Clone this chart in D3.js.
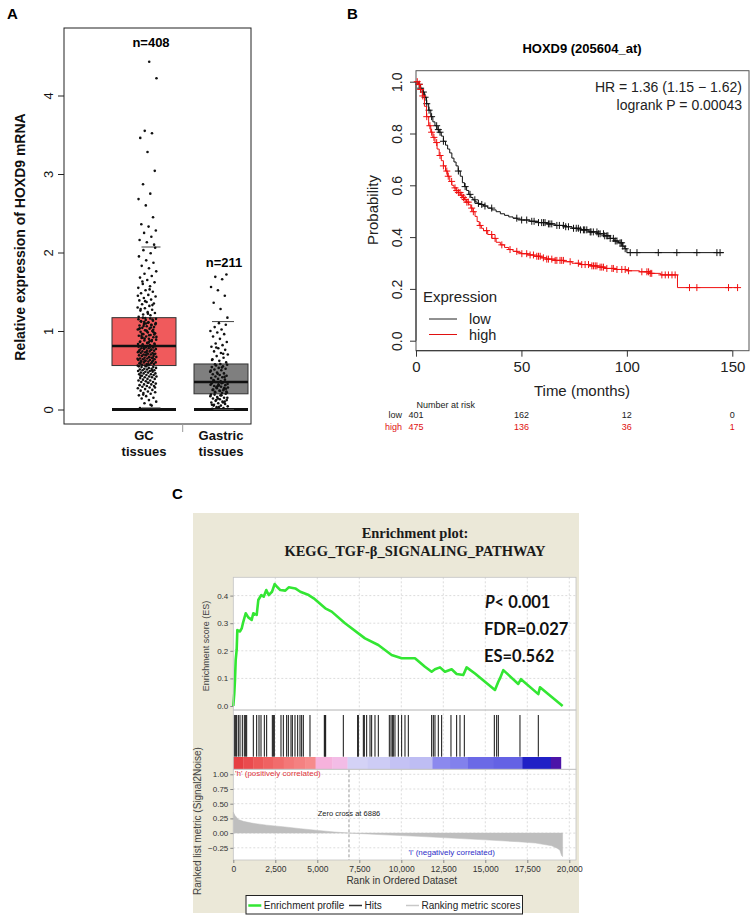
<!DOCTYPE html>
<html><head><meta charset="utf-8">
<script src="https://cdn.jsdelivr.net/npm/d3@7"></script>
<style>body{margin:0;background:#fff}svg{display:block}</style>
</head><body><svg id="c" width="753" height="917" font-family="Liberation Sans, Arial, sans-serif"></svg>
<script>
// ---------- Panel A data ----------
const aCats = ["GC", "Gastric"];
const aCatLabels = [["GC", "tissues"], ["Gastric", "tissues"]];
const aCounts = ["n=408", "n=211"];
const aQ1 = [0.56, 0.20];
const aMedian = [0.81, 0.35];
const aQ3 = [1.17, 0.58];
const aWhiskerHi = [2.07, 1.12];
const aWhiskerLo = [0.02, 0.0];
const aYTicks = [0, 1, 2, 3, 4];
const gcValues = [0.02,0.05,0.08,0.1,0.12,0.14,0.15,0.17,0.18,0.2,0.21,0.22,0.23,0.24,0.25,0.26,0.27,0.28,0.29,0.3,0.3,0.31,0.32,0.32,0.33,0.34,0.35,0.35,0.36,0.37,0.37,0.38,0.39,0.39,0.4,0.41,0.41,0.42,0.42,0.43,0.44,0.44,0.45,0.45,0.46,0.46,0.47,0.47,0.48,0.48,0.49,0.49,0.5,0.5,0.51,0.51,0.52,0.52,0.53,0.53,0.54,0.54,0.55,0.55,0.06,0.19,0.28,0.34,0.43,0.5,
0.56,0.56,0.57,0.57,0.58,0.58,0.59,0.59,0.6,0.6,0.61,0.61,0.62,0.62,0.63,0.63,0.64,0.64,0.65,0.65,0.66,0.66,0.67,0.67,0.68,0.68,0.69,0.69,0.7,0.7,0.71,0.71,0.72,0.72,0.73,0.73,0.74,0.74,0.75,0.75,0.76,0.76,0.77,0.77,0.78,0.78,0.79,0.79,0.8,0.8,0.81,0.81,0.565,0.585,0.605,0.625,0.645,0.665,0.685,0.705,0.725,0.745,0.765,0.785,0.805,0.575,0.615,0.655,0.695,0.735,
0.82,0.83,0.84,0.85,0.86,0.87,0.88,0.89,0.9,0.91,0.92,0.93,0.94,0.95,0.96,0.97,0.98,0.99,1.0,1.01,1.02,1.03,1.04,1.05,1.06,1.07,1.08,1.09,1.1,1.11,1.12,1.13,1.14,1.15,1.16,1.17,0.825,0.845,0.865,0.885,0.905,0.925,0.945,0.965,0.985,1.005,1.025,1.045,1.065,1.085,1.105,1.125,1.145,1.165,0.835,0.875,0.915,0.955,0.995,1.035,1.075,1.115,1.155,0.855,0.935,1.015,1.095,
1.18,1.2,1.21,1.23,1.24,1.26,1.27,1.29,1.3,1.32,1.34,1.35,1.37,1.39,1.4,1.42,1.44,1.46,1.48,1.5,1.52,1.55,1.57,1.6,1.62,1.65,1.68,1.7,1.73,1.76,1.8,1.83,1.87,1.9,1.95,1.99,2.03,2.06,1.22,1.28,1.33,1.38,1.45,1.53,1.63,
2.1,2.13,2.16,2.2,2.25,2.28,2.33,2.36,2.45,2.6,2.68,2.75,2.87,3.04,3.28,3.46,3.52,3.55,4.22,4.43];
const gastricValues = [0.01,0.02,0.03,0.04,0.05,0.06,0.07,0.08,0.09,0.1,0.11,0.12,0.13,0.14,0.15,0.16,0.17,0.18,0.19,0.2,0.03,0.06,0.09,0.12,0.15,0.18,0.05,0.1,0.14,0.19,
0.21,0.22,0.23,0.24,0.25,0.26,0.27,0.28,0.29,0.3,0.31,0.32,0.33,0.34,0.35,0.215,0.235,0.255,0.275,0.295,0.315,0.335,0.225,0.265,0.305,0.345,0.245,0.285,0.325,
0.36,0.37,0.38,0.39,0.4,0.41,0.42,0.43,0.44,0.45,0.46,0.47,0.48,0.5,0.51,0.52,0.53,0.54,0.55,0.56,0.57,0.58,0.375,0.415,0.455,0.495,0.535,0.575,
0.6,0.62,0.64,0.66,0.68,0.7,0.72,0.74,0.76,0.78,0.8,0.82,0.84,0.86,0.9,0.93,0.96,0.98,1.0,1.02,1.05,1.08,1.1,0.63,0.71,0.79,
1.17,1.28,1.36,1.45,1.52,1.56,1.66,1.69,1.72];

// ---------- Panel B data ----------
const kmLowT = [0,1,2,3,4,5,6,7,8,9,10,11,12,13,14,15,16,17,18,19,20,21,22,23,24,25,26,27,28,29,30,32,34,36,38,40,42,44,46,48,50,54,58,62,66,70,74,78,82,86,89,92,94,96,98,99,100];
const kmLowS = [1.0,0.99,0.975,0.96,0.94,0.915,0.89,0.865,0.845,0.83,0.815,0.805,0.79,0.77,0.755,0.74,0.725,0.705,0.69,0.675,0.655,0.635,0.61,0.595,0.58,0.565,0.553,0.544,0.536,0.53,0.526,0.52,0.512,0.505,0.498,0.49,0.484,0.478,0.473,0.469,0.466,0.461,0.456,0.451,0.445,0.44,0.434,0.428,0.42,0.413,0.405,0.395,0.385,0.378,0.365,0.355,0.34];
const kmLowEnd = 146;
const kmHighT = [0,1,2,3,4,5,6,7,8,9,10,11,12,13,14,15,16,17,18,19,20,21,22,23,24,25,26,27,28,29,30,31,32,34,36,38,40,42,44,46,48,50,53,56,59,62,66,70,74,78,82,86,90,95,100,106,111,116,124];
const kmHighS = [1.0,0.99,0.97,0.945,0.905,0.865,0.83,0.805,0.785,0.765,0.74,0.715,0.695,0.675,0.655,0.635,0.615,0.6,0.59,0.58,0.572,0.562,0.553,0.545,0.535,0.525,0.512,0.498,0.48,0.46,0.445,0.434,0.425,0.41,0.395,0.38,0.37,0.36,0.352,0.345,0.34,0.336,0.331,0.326,0.32,0.315,0.31,0.305,0.299,0.294,0.289,0.284,0.279,0.275,0.27,0.266,0.26,0.254,0.205];
const kmHighEnd = 152.5;
const kmLowCensor = [1.5,2.2,3.5,4.3,5.1,6.2,7.4,9.8,10.6,11.4,13,20.1,23.3,25.6,27.9,29.6,31.2,32.7,35.9,47.8,50.1,52.5,54.9,56,58.1,59.6,60.5,61.2,62.8,63.5,64.4,66.8,68,69.9,71,72.3,74.7,76,77,78,79.4,80,81,82.6,83,84.1,85.8,86.5,87.3,88.9,89.5,90.5,91,92.1,93.6,94.5,95.3,96.8,97.5,98.1,99.2,101.6,104.8,114.9,123.7,133.2,142.7,144.2];
const kmHighCensor = [0.6,1.6,2.2,3.2,5.1,6.6,7.4,8.5,9.8,11.4,13,14.6,15.3,16.9,18.5,19.3,20.1,20.9,21.7,22.5,23.3,24.1,24.8,26.4,27.2,30.4,33.5,35.9,37.5,40.7,44.6,47.8,50.2,52.5,54.1,55.7,57.3,58.1,58.9,60.4,62,62.8,64.4,66,66.8,68.3,69.1,69.9,73.1,77,78.6,80.2,81.8,83.4,84.2,85,85.8,87.3,88.1,88.9,90.5,92.9,93.6,95.3,97.6,99.2,100.8,107.1,109.5,110.3,111.1,111.8,116.6,118.2,119.7,121.4,122.9,129.7,133.2,148.2,152.5];
const kmXTicks = [0, 50, 100, 150];
const kmYTicks = [0, 0.2, 0.4, 0.6, 0.8, 1.0];
const riskTimes = [0, 50, 100, 150];
const riskLow = [401, 162, 12, 0];
const riskHigh = [475, 136, 36, 1];

// ---------- Panel C data ----------
const esRank = [0,60,100,143,200,240,400,500,595,738,893,1095,1190,1393,1488,1667,1810,1964,2107,2304,2464,2601,2798,3095,3298,3690,3988,4488,4786,5476,5857,6649,7839,8631,9027,9423,10020,10813,11408,11806,12004,12302,12599,12996,13294,13690,13889,14385,15575,15774,15873,16071,16964,17123,18155,18254,19603];
const esScore = [0,0.047,0.094,0.167,0.203,0.275,0.27,0.281,0.305,0.336,0.321,0.312,0.336,0.33,0.384,0.402,0.396,0.42,0.402,0.414,0.442,0.432,0.42,0.418,0.43,0.426,0.414,0.402,0.39,0.354,0.342,0.3,0.245,0.221,0.203,0.185,0.173,0.173,0.142,0.124,0.133,0.14,0.124,0.133,0.116,0.112,0.14,0.118,0.058,0.088,0.1,0.13,0.08,0.097,0.043,0.068,0];
const hitRanks = [61,141,200,300,399,537,656,736,796,1192,1391,1530,1649,1847,1986,2323,2383,2442,2839,2978,3176,3276,3434,3514,3672,3831,3970,4069,4168,4565,5418,5458,5498,6549,7403,7442,7740,7799,7938,8137,8236,8434,8632,9287,9386,9466,9525,9624,9823,10021,10220,10418,11807,11906,12005,12203,12402,12957,13295,13494,13751,15537,15676,15775,17064,18155];
const metricRank = [0,30,100,300,600,1100,2000,3075,4000,5060,6000,6886,8000,9030,11000,13000,15000,16970,18000,18950,19300,19440,19540,19600];
const metricValue = [0.36,0.34,0.3,0.23,0.2,0.17,0.135,0.105,0.075,0.045,0.02,0,-0.015,-0.03,-0.055,-0.085,-0.115,-0.147,-0.17,-0.215,-0.26,-0.29,-0.38,-0.4];
const barStart = [0,600,1200,1800,2400,3000,3600,4300,4900,5900,6800,8000,9300,10500,11850,12900,13930,15500,17200,18900];
const barEnd   = [600,1200,1800,2400,3000,3600,4300,4900,5900,6800,8000,9300,10500,11850,12900,13930,15500,17200,18900,19500];
const barColor = ["#E63F42","#EA4B4E","#ED5858","#EF6262","#F16C6C","#F37878","#F48181","#F68B8B","#F6B2DC","#F3BCE6","#D4D2F6","#CDCCF5","#C4C2F4","#BEBDF3","#8B89EE","#8281EC","#6B69E6","#6462E4","#2020C6","#4C14A8"];
const gseaXTicks = [0,2500,5000,7500,10000,12500,15000,17500,20000];
const esYTicks = [0, 0.1, 0.2, 0.3, 0.4];
const metricYTicks = [-0.25, 0, 0.25, 0.5, 0.75, 1.0];
const zeroCross = 6886;
const gseaStats = ["< 0.001", "FDR=0.027", "ES=0.562"];
const gseaLegend = ["Enrichment profile", "Hits", "Ranking metric scores"];

// ================= Drawing =================
const SANS = "Liberation Sans, Arial, sans-serif";
const SERIF = "Liberation Serif, Times New Roman, serif";
const svg = d3.select("#c");
svg.append("rect").attr("width", 753).attr("height", 917).attr("fill", "#fff");

function panelLabel(t, x, y) {
  svg.append("text").attr("x", x).attr("y", y).attr("font-size", 15).attr("font-weight", "bold").text(t);
}

// ---------- Panel A ----------
panelLabel("A", 7, 19);
const aY = d3.scaleLinear().domain([0, 4]).range([409.5, 95.5]);
const aX = d3.scalePoint().domain(aCats).range([144, 221]);
const aBoxW = [64, 54];
const aJitterShift = [3, -2];
const aJitterW = [19, 18];
const aWhiskShift = [7, 2];
const aWhiskW = [19, 22];
const aFill = ["#F05A5C", "#7F7F7F"];
const A = svg.append("g");

A.append("rect").attr("x", 64).attr("y", 28).attr("width", 187).attr("height", 396)
  .attr("fill", "none").attr("stroke", "#222").attr("stroke-width", 1);

const aAxis = A.append("g").attr("transform", "translate(64,0)")
  .call(d3.axisLeft(aY).tickValues(aYTicks).tickSize(6).tickFormat(d3.format("d")));
aAxis.select(".domain").remove();
aAxis.selectAll("line").attr("stroke", "#222");
aAxis.selectAll("text").attr("transform", "rotate(-90)").attr("x", 0).attr("y", -11).attr("dy", 0)
  .attr("text-anchor", "middle").attr("font-size", 13).attr("fill", "#111").attr("font-family", SANS);

A.append("text").attr("transform", "translate(25,237) rotate(-90)").attr("text-anchor", "middle")
  .attr("font-size", 14).attr("font-weight", "bold").attr("fill", "#111").text("Relative expression of HOXD9 mRNA");

aCats.forEach((c, i) => {
  const cx = aX(c), w = aBoxW[i];
  A.append("rect").attr("x", cx - w / 2).attr("y", aY(aQ3[i])).attr("width", w)
    .attr("height", aY(aQ1[i]) - aY(aQ3[i])).attr("fill", aFill[i]).attr("stroke", "#333").attr("stroke-width", 1);
  A.append("line").attr("x1", cx - w / 2).attr("x2", cx + w / 2).attr("y1", aY(aMedian[i])).attr("y2", aY(aMedian[i]))
    .attr("stroke", "#111").attr("stroke-width", 2.5);
  A.append("line").attr("x1", cx - w / 2).attr("x2", cx + w / 2).attr("y1", aY(0)).attr("y2", aY(0))
    .attr("stroke", "#111").attr("stroke-width", 3.2);
  const wx = cx + aWhiskShift[i];
  [aWhiskerHi[i], aWhiskerLo[i]].forEach(v => {
    A.append("line").attr("x1", wx - aWhiskW[i] / 2).attr("x2", wx + aWhiskW[i] / 2)
      .attr("y1", aY(v)).attr("y2", aY(v)).attr("stroke", "#444").attr("stroke-width", 1);
  });
  const vals = i === 0 ? gcValues : gastricValues;
  const jx = cx + aJitterShift[i];
  A.append("g").selectAll("circle").data(vals).join("circle")
    .attr("cx", (d, k) => jx + (((k * 0.6180339887 + 0.13) % 1) - 0.5) * aJitterW[i])
    .attr("cy", d => aY(d)).attr("r", 1.3).attr("fill", "#111");
  A.append("text").attr("x", cx + aWhiskShift[i] + (i === 0 ? 0 : 1)).attr("y", i === 0 ? 47 : 267)
    .attr("text-anchor", "middle").attr("font-size", 13).attr("font-weight", "bold").text(aCounts[i]);
  aCatLabels[i].forEach((t, k) => {
    A.append("text").attr("x", cx).attr("y", 440 + k * 15.5).attr("text-anchor", "middle")
      .attr("font-size", 13).attr("font-weight", "bold").attr("fill", "#111").text(t);
  });
});
A.append("line").attr("x1", 182.7).attr("x2", 182.7).attr("y1", 424).attr("y2", 432).attr("stroke", "#999");

// ---------- Panel B ----------
panelLabel("B", 347, 19);
const kx = d3.scaleLinear().domain([0, 150]).range([416, 732.3]);
const ky = d3.scaleLinear().domain([0, 1]).range([340.7, 81.7]);
const B = svg.append("g");
B.append("text").attr("x", 582).attr("y", 53).attr("text-anchor", "middle").attr("font-size", 13)
  .attr("font-weight", "bold").text("HOXD9 (205604_at)");
B.append("rect").attr("x", 416).attr("y", 70.7).attr("width", 333).attr("height", 280)
  .attr("fill", "none").attr("stroke", "#555").attr("stroke-width", 1);

const bxAxis = B.append("g").attr("transform", "translate(0,350.7)")
  .call(d3.axisBottom(kx).tickValues(kmXTicks).tickSize(6).tickPadding(5));
bxAxis.select(".domain").attr("stroke", "#333").attr("d", `M${kx(0)},0H${kx(150)}`);
bxAxis.selectAll("line").attr("stroke", "#333");
bxAxis.selectAll("text").attr("font-size", 15).attr("fill", "#222").attr("font-family", SANS);

const byAxis = B.append("g").attr("transform", "translate(416,0)")
  .call(d3.axisLeft(ky).tickValues(kmYTicks).tickSize(6).tickFormat(d3.format(".1f")));
byAxis.select(".domain").attr("stroke", "#333").attr("d", `M0,${ky(0)}V${ky(1)}`);
byAxis.selectAll("line").attr("stroke", "#333");
byAxis.selectAll("text").attr("transform", "rotate(-90)").attr("x", 0).attr("y", -14.5).attr("dy", 0)
  .attr("text-anchor", "middle").attr("font-size", 14).attr("fill", "#222").attr("font-family", SANS);

B.append("text").attr("transform", "translate(378,210) rotate(-90)").attr("text-anchor", "middle")
  .attr("font-size", 15).attr("fill", "#222").text("Probability");
B.append("text").attr("x", 582).attr("y", 396).attr("text-anchor", "middle").attr("font-size", 15)
  .attr("fill", "#222").text("Time (months)");

B.append("text").attr("x", 742).attr("y", 92).attr("text-anchor", "end").attr("font-size", 14)
  .attr("fill", "#222").text("HR = 1.36 (1.15 \u2212 1.62)");
B.append("text").attr("x", 742).attr("y", 109.5).attr("text-anchor", "end").attr("font-size", 14)
  .attr("fill", "#222").text("logrank P = 0.00043");

function survAt(T, S, t) { const i = d3.bisectRight(T, t) - 1; return S[Math.max(0, i)]; }
const stepLine = d3.line().x(d => kx(d[0])).y(d => ky(d[1])).curve(d3.curveStepAfter);
const groups = [
  {T: kmLowT, S: kmLowS, end: kmLowEnd, cens: kmLowCensor, col: "#111"},
  {T: kmHighT, S: kmHighS, end: kmHighEnd, cens: kmHighCensor, col: "#F01010"}
];
groups.forEach(g => {
  const pts = g.T.map((t, i) => [t, g.S[i]]).concat([[g.end, g.S[g.S.length - 1]]]);
  B.append("path").attr("d", stepLine(pts)).attr("fill", "none").attr("stroke", g.col).attr("stroke-width", 1);
  B.append("path").attr("d", g.cens.map(t => {
    const x = kx(t), y = ky(survAt(g.T, g.S, t));
    return `M${x - 3.5},${y}h7M${x},${y - 3.5}v7`;
  }).join("")).attr("fill", "none").attr("stroke", g.col).attr("stroke-width", 1);
});

// legend
B.append("text").attr("x", 423).attr("y", 302).attr("font-size", 15).attr("fill", "#222").text("Expression");
[["low", "#222"], ["high", "#E01010"]].forEach((d, i) => {
  const y = 319 + i * 15.5;
  B.append("line").attr("x1", 429).attr("x2", 457).attr("y1", y).attr("y2", y).attr("stroke", d[1]).attr("stroke-width", 1);
  B.append("text").attr("x", 469).attr("y", y + 5).attr("font-size", 14.5).attr("fill", "#222").text(d[0]);
});

// risk table
B.append("text").attr("x", 416.5).attr("y", 407.5).attr("font-size", 9).attr("fill", "#222").text("Number at risk");
[["low", riskLow, "#222", 418], ["high", riskHigh, "#E01010", 430]].forEach(r => {
  B.append("text").attr("x", 402).attr("y", r[3]).attr("text-anchor", "end").attr("font-size", 9).attr("fill", r[2]).text(r[0]);
  riskTimes.forEach((t, i) => {
    B.append("text").attr("x", kx(t)).attr("y", r[3]).attr("text-anchor", "middle").attr("font-size", 9)
      .attr("fill", r[2]).text(r[1][i]);
  });
});

// ---------- Panel C ----------
panelLabel("C", 172, 499);
const C = svg.append("g");
C.append("rect").attr("x", 193).attr("y", 513).attr("width", 386).attr("height", 400).attr("fill", "#EBE8D8");
C.append("text").attr("x", 415).attr("y", 538).attr("text-anchor", "middle").attr("font-size", 14.5)
  .attr("font-weight", "bold").attr("font-family", SERIF).attr("fill", "#1a1a1a")
  .text("Enrichment plot:");
C.append("text").attr("x", 415).attr("y", 556).attr("text-anchor", "middle").attr("font-size", 14.5)
  .attr("font-weight", "bold").attr("font-family", SERIF).attr("fill", "#1a1a1a")
  .text("KEGG_TGF-\u03B2_SIGNALING_PATHWAY");

const gx = d3.scaleLinear().domain([0, 20000]).range([233.3, 569.3]);
const esY = d3.scaleLinear().domain([0, 0.4]).range([706, 595.6]);
const mY = d3.scaleLinear().domain([-0.25, 1]).range([847.8, 774.3]);
const pL = 233.3, pR = 576;
const esTop = 577.3, esBot = 710, hitsBot = 769.3, mBot = 860;

[[esTop, esBot], [esBot, hitsBot], [hitsBot, mBot]].forEach(p => {
  C.append("rect").attr("x", pL).attr("y", p[0]).attr("width", pR - pL).attr("height", p[1] - p[0])
    .attr("fill", "#fff");
});
const grid = C.append("g").attr("stroke", "#dcdcdc").attr("stroke-dasharray", "2,2").attr("stroke-width", 1);
gseaXTicks.slice(1).forEach(t => {
  grid.append("line").attr("x1", gx(t)).attr("x2", gx(t)).attr("y1", esTop).attr("y2", mBot);
});
esYTicks.slice(1).forEach(t => {
  grid.append("line").attr("x1", pL).attr("x2", pR).attr("y1", esY(t)).attr("y2", esY(t));
});
metricYTicks.forEach(t => {
  grid.append("line").attr("x1", pL).attr("x2", pR).attr("y1", mY(t)).attr("y2", mY(t));
});

C.append("g").selectAll("rect").data(barStart).join("rect")
  .attr("x", (d, i) => gx(d)).attr("width", (d, i) => gx(barEnd[i]) - gx(d) + 0.3)
  .attr("y", 757).attr("height", 12).attr("fill", (d, i) => barColor[i]);

C.append("g").selectAll("line").data(hitRanks).join("line")
  .attr("x1", d => gx(d)).attr("x2", d => gx(d)).attr("y1", 715).attr("y2", 756.7)
  .attr("stroke", "#111").attr("stroke-width", 1);

const metPts = metricRank.map((r, i) => [r, metricValue[i]]);
C.append("path").attr("d", d3.area().x(d => gx(d[0])).y0(mY(0)).y1(d => mY(d[1]))(metPts))
  .attr("fill", "#BEBEBE").attr("stroke", "#BEBEBE").attr("stroke-width", 0.5);

C.append("line").attr("x1", gx(zeroCross)).attr("x2", gx(zeroCross)).attr("y1", hitsBot).attr("y2", mBot)
  .attr("stroke", "#999").attr("stroke-dasharray", "3,2");
C.append("text").attr("x", 317.7).attr("y", 816).attr("font-size", 7.5).attr("fill", "#222").text("Zero cross at " + zeroCross);
C.append("text").attr("x", 235).attr("y", 775.5).attr("font-size", 8).attr("fill", "#E0353A").text("'h' (positively correlated)");
C.append("text").attr("x", 451.7).attr("y", 854.5).attr("text-anchor", "middle").attr("font-size", 8).attr("fill", "#2E2EC8").text("'l' (negatively correlated)");

const esPts = esRank.map((r, i) => [r, esScore[i]]);
C.append("path").attr("d", d3.line().x(d => gx(d[0])).y(d => esY(d[1]))(esPts))
  .attr("fill", "none").attr("stroke", "#33E633").attr("stroke-width", 2.6).attr("stroke-linejoin", "round");

[[esTop, esBot], [esBot, hitsBot], [hitsBot, mBot]].forEach(p => {
  C.append("rect").attr("x", pL).attr("y", p[0]).attr("width", pR - pL).attr("height", p[1] - p[0])
    .attr("fill", "none").attr("stroke", "#c4c4c4").attr("stroke-width", 0.8);
});

function styleAxis(g, fs) {
  g.select(".domain").remove();
  g.selectAll("line").attr("stroke", "#888");
  g.selectAll("text").attr("font-size", fs).attr("fill", "#333").attr("font-family", SANS);
}
styleAxis(C.append("g").attr("transform", `translate(${pL},0)`)
  .call(d3.axisLeft(esY).tickValues(esYTicks).tickSize(3).tickPadding(2).tickFormat(d3.format(".1f"))), 8);
styleAxis(C.append("g").attr("transform", `translate(${pL},0)`)
  .call(d3.axisLeft(mY).tickValues(metricYTicks).tickSize(3).tickPadding(2).tickFormat(d3.format(".2f"))), 8);
styleAxis(C.append("g").attr("transform", `translate(0,${mBot})`)
  .call(d3.axisBottom(gx).tickValues(gseaXTicks).tickSize(3).tickPadding(3).tickFormat(d3.format(","))), 8.5);

C.append("text").attr("transform", "translate(209,646) rotate(-90)").attr("text-anchor", "middle")
  .attr("font-size", 9).attr("fill", "#444").text("Enrichment score (ES)");
C.append("text").attr("transform", "translate(201,821) rotate(-90)").attr("text-anchor", "middle")
  .attr("font-size", 10).attr("fill", "#444").text("Ranked list metric (Signal2Noise)");
C.append("text").attr("x", 401.7).attr("y", 884).attr("text-anchor", "middle").attr("font-size", 10)
  .attr("fill", "#333").text("Rank in Ordered Dataset");

const st = C.append("g").attr("font-family", "Lato, Open Sans, sans-serif").attr("font-weight", "bold")
  .attr("font-size", 16.5).attr("fill", "#111");
const p1 = st.append("text").attr("x", 485).attr("y", 607.5);
p1.append("tspan").attr("font-style", "italic").text("P");
p1.append("tspan").text(gseaStats[0]);
st.append("text").attr("x", 484).attr("y", 635).text(gseaStats[1]);
st.append("text").attr("x", 484).attr("y", 662).text(gseaStats[2]);

C.append("rect").attr("x", 246).attr("y", 895.5).attr("width", 276.5).attr("height", 18.5)
  .attr("fill", "#fff").attr("stroke", "#222").attr("stroke-width", 1);
const legCols = ["#33E633", "#333", "#C8C8C8"];
const legX = [248.3, 349, 406];
gseaLegend.forEach((t, i) => {
  C.append("line").attr("x1", legX[i]).attr("x2", legX[i] + 13).attr("y1", 905.5).attr("y2", 905.5)
    .attr("stroke", legCols[i]).attr("stroke-width", i === 0 ? 2.5 : 1.5);
  C.append("text").attr("x", legX[i] + 15.5).attr("y", 909).attr("font-size", 10).attr("fill", "#222").text(t);
});
</script></body></html>
